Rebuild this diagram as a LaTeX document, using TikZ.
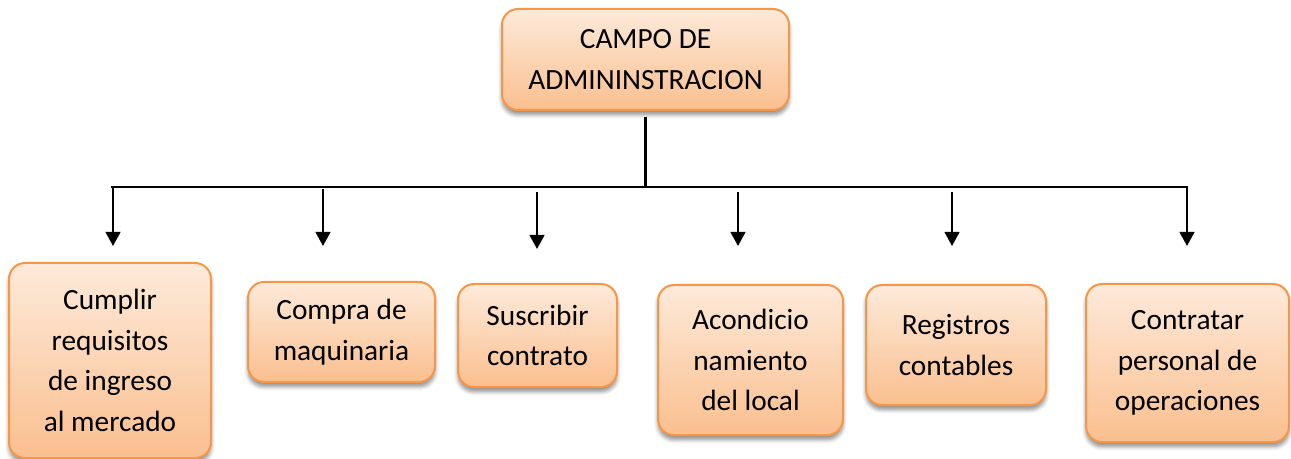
\documentclass[tikz,border=0pt]{standalone}
\usepackage{fontspec}
\setmainfont{Carlito}
\usetikzlibrary{arrows.meta,shadows.blur}
\definecolor{borde}{RGB}{247,150,70}
\definecolor{claro}{RGB}{253,234,218}
\definecolor{oscuro}{RGB}{250,191,143}
\tikzset{
  caja/.style={draw=borde,line width=1.5pt,rounded corners=12pt,top color=claro,bottom color=oscuro,
    align=center,inner sep=2pt,font=\fontsize{22}{30.5}\selectfont,
    blur shadow={shadow xshift=0pt,shadow yshift=-3.5pt,shadow blur steps=6,shadow blur radius=3pt,shadow opacity=45}},
  linea/.style={line width=1.6pt},
  flecha/.style={linea,-{Triangle[width=11pt,length=10.5pt]}}
}
\begin{document}
\begin{tikzpicture}[x=0.75pt,y=-0.75pt]
    \useasboundingbox (0,0) rectangle (1291,459);
    \node[caja,minimum width=215.25pt,minimum height=75.75pt](campo)at(645.5,59.5){CAMPO DE\\ADMININSTRACION};
    % tareas
    \node[caja,minimum width=151.5pt,minimum height=146.25pt](req)at(110,360.5){Cumplir\\requisitos\\de ingreso\\al mercado};
    \node[caja,minimum width=140.25pt,minimum height=75pt](maq)at(341.5,332){Compra de\\maquinaria};
    \node[caja,minimum width=119.25pt,minimum height=77.25pt](contr)at(537.5,335.5){Suscribir\\contrato};
    \node[caja,minimum width=138.75pt,minimum height=112.5pt](local)at(750.5,360){Acondicio\\namiento\\del local};
    \node[caja,minimum width=135pt,minimum height=90pt](regis)at(956,345){Registros\\contables};
    \node[caja,minimum width=152.25pt,minimum height=118.5pt](perso)at(1187.5,363){Contratar\\personal de\\operaciones};
    % lineas
    \coordinate(barizq)at(111,187);
    \coordinate(barder)at(1187,187);
    \draw[linea]([yshift=-4.5pt]campo.south)--(campo.south|-barizq);
    \draw[flecha](barizq)--(barder)--++(0,59);
    \foreach \i/\x/\s/\f in {1/113/188/246,2/323/189/246,3/537/192/249,4/738/192/246,5/952/192/246}{
        \coordinate(ini\i)at(\x,\s);
        \coordinate(fin\i)at(\x,\f);
        \draw[flecha](ini\i)--(fin\i);
    }
\end{tikzpicture}
\end{document}
